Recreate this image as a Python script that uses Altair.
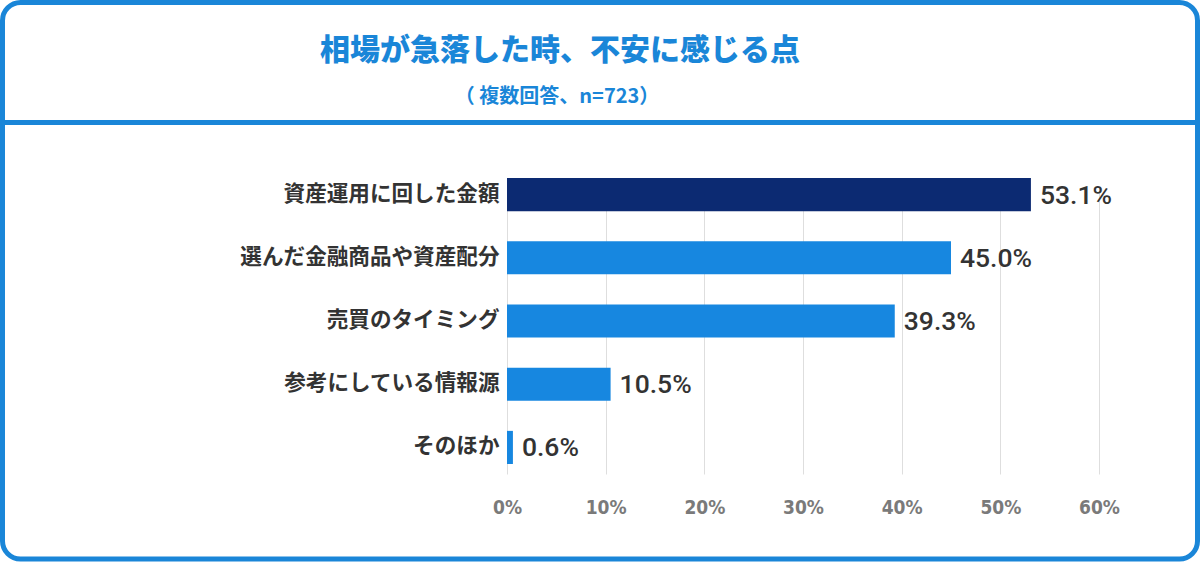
import altair as alt
import pandas as pd

# Survey: concerns felt when the market drops sharply (multiple answers, n=723)
title_text = "相場が急落した時、不安に感じる点"
subtitle_text = "（ 複数回答、n=723）"
items = [
    "資産運用に回した金額",
    "選んだ金融商品や資産配分",
    "売買のタイミング",
    "参考にしている情報源",
    "そのほか",
]
shares = [53.1, 45.0, 39.3, 10.5, 0.6]
x_ticks = [0, 10, 20, 30, 40, 50, 60]

BLUE = "#1787e0"
NAVY = "#0c2a72"
FRAME = "#1a86d8"
TEXT = "#333333"

df = pd.DataFrame({"item": items, "share": shares})
df["label"] = [f"{v:.1f}%" for v in shares]

# plot area placement inside the 1200x562 canvas
PAD_L, PAD_T, W, H = 507, 164, 592, 324
PAD_R = 1200 - PAD_L - W
PAD_B = 562 - PAD_T - H

one = pd.DataFrame({"k": [0]})

x_enc = alt.X(
    "share:Q",
    scale=alt.Scale(domain=[0, 60], nice=False, zero=True),
    axis=alt.Axis(
        values=x_ticks,
        labelExpr="datum.value + '%'",
        title=None,
        grid=True,
        gridColor="#dedede",
        gridWidth=1,
        domain=False,
        ticks=False,
        labelFlush=False,
        labelPadding=10,
        labelFont="'DejaVu Sans Condensed', 'Roboto Condensed', Roboto",
        labelFontSize=19,
        labelFontWeight="bold",
        labelColor="#7a7a7a",
    ),
)
y_enc = alt.Y(
    "item:N",
    sort=items,
    scale=alt.Scale(range=[14, 300], paddingInner=0.476, paddingOuter=0),
    axis=alt.Axis(
        title=None,
        domain=False,
        ticks=False,
        labelPadding=8,
        labelFont="Noto Sans CJK JP",
        labelFontSize=21.6,
        labelFontWeight="bold",
        labelColor=TEXT,
        labelLimit=400,
    ),
)

bars = alt.Chart(df).mark_bar().encode(
    x=x_enc,
    y=y_enc,
    color=alt.condition(alt.datum.item == items[0], alt.value(NAVY), alt.value(BLUE)),
)

values = alt.Chart(df).mark_text(
    align="left", baseline="middle", dx=9, dy=1,
    font="Roboto", fontSize=26.5, fontWeight=500, color=TEXT,
).encode(x="share:Q", y=alt.Y("item:N", sort=items), text="label:N")

# outer rounded frame and header divider
frame = alt.Chart(one).mark_rect(
    fill=None, stroke=FRAME, strokeWidth=5, cornerRadius=18,
).encode(
    x=alt.value(2.5 - PAD_L), x2=alt.value(1197.5 - PAD_L),
    y=alt.value(2.5 - PAD_T), y2=alt.value(559 - PAD_T),
)
divider = alt.Chart(one).mark_rule(color=FRAME, strokeWidth=5).encode(
    x=alt.value(3 - PAD_L), x2=alt.value(1197 - PAD_L),
    y=alt.value(122.5 - PAD_T),
)

heading = alt.Chart(pd.DataFrame({"t": [title_text]})).mark_text(
    align="center", baseline="middle",
    font="Noto Sans CJK JP", fontSize=30, fontWeight=900, color=FRAME,
).encode(x=alt.value(560 - PAD_L), y=alt.value(51 - PAD_T), text="t:N")

subheading = alt.Chart(pd.DataFrame({"t": [subtitle_text]})).mark_text(
    align="center", baseline="middle",
    font="Noto Sans CJK JP", fontSize=20, fontWeight="bold", color=FRAME,
).encode(x=alt.value(557 - PAD_L), y=alt.value(97 - PAD_T), text="t:N")

chart = (
    alt.layer(bars, values, frame, divider, heading, subheading)
    .properties(
        width=W,
        height=H,
        padding={"left": PAD_L, "top": PAD_T, "right": PAD_R, "bottom": PAD_B},
        autosize=alt.AutoSizeParams(type="none"),
        background="white",
    )
    .configure_view(stroke=None)
)

chart.save("out.html", embed_options={"renderer": "svg", "actions": False})
